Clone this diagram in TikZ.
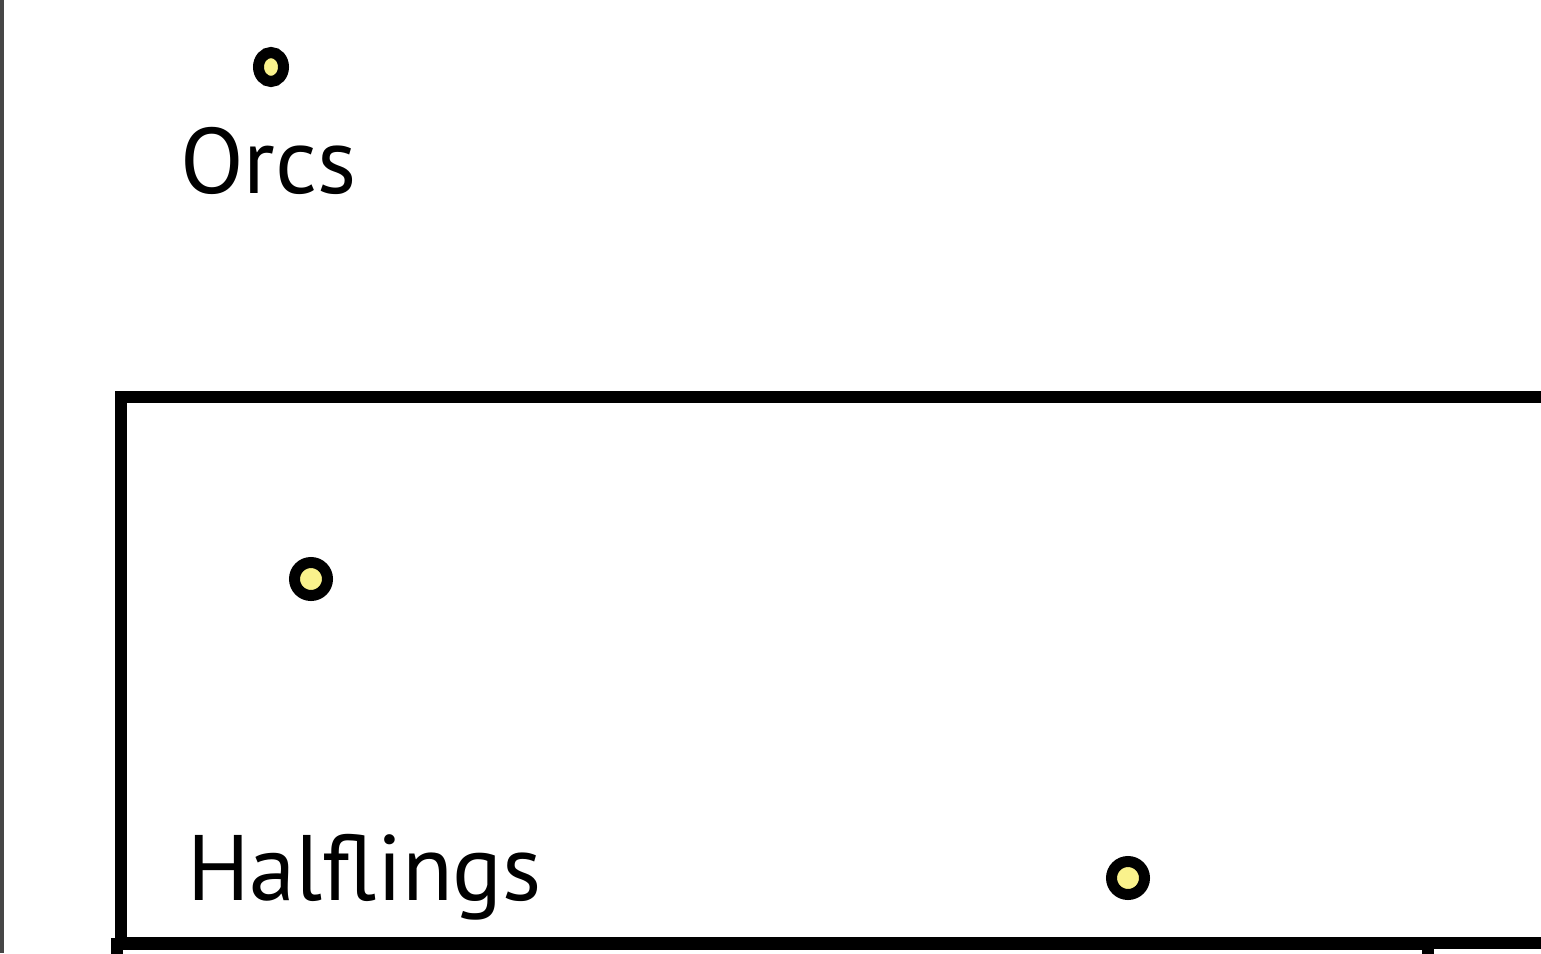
\documentclass[tikz,border=0pt]{standalone}
\usepackage{fontspec}
\setmainfont{PT Sans}
\usetikzlibrary{shapes.geometric}
\definecolor{spotyellow}{RGB}{250,242,140}
\tikzset{
  spot/.style={circle,draw=black,line width=11pt,fill=spotyellow,
    minimum size=33pt,inner sep=0pt},
  smallspot/.style={ellipse,draw=black,line width=11pt,fill=spotyellow,
    minimum width=25pt,minimum height=29pt,inner sep=0pt},
  lbl/.style={anchor=base west,inner sep=0pt,
    font=\fontsize{93}{112}\selectfont},
  frame/.style={line width=12.5pt}
}
\begin{document}
\begin{tikzpicture}[x=1pt,y=-1pt]
  \useasboundingbox (0,0) rectangle (1541,953);
  \clip (0,0) rectangle (1541,953);
  %--- left edge strip ---------------------------------------------------------
  \fill[gray!55!black] (0,0) rectangle (4,953);

  %--- frames ------------------------------------------------------------------
  \draw[frame] (1560,397) -- (121,397) -- (121,943) -- (1560,943);
  \draw[frame] (117,975) -- (117,944) -- (1428,944) -- (1428,975);

  %--- spots and labels --------------------------------------------------------
  \node[smallspot] (orcsdot) at (271,67) {};
  \node[lbl] (orcs) at (180,193) {Orcs};

  \node[spot] (halfdot1) at (311,579) {};
  \node[spot] (halfdot2) at (1128,878) {};
  \node[lbl] (halflings) at (187,900) {Halflings};
\end{tikzpicture}
\end{document}
